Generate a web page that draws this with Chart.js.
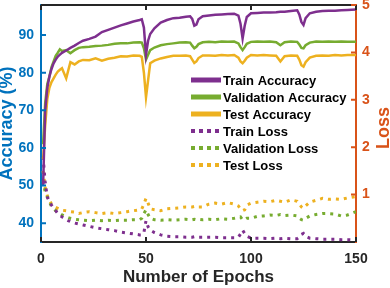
<!DOCTYPE html>
<html lang="en">
<head>
<meta charset="UTF-8" />
<title>Accuracy and loss</title>
<script src="https://cdn.jsdelivr.net/npm/chart.js"></script>
<style>
  body { margin: 0; background: #fff; }
  canvas { display: block; }
</style>
</head>
<body>
<canvas id="myChart" width="390" height="288"></canvas>
<script>
var epochs = [1,2,3,4,5,6,7,8,9,10, 12,14,16,18,20, 23,26,29,32,35,38,41,44,47,
  48,49,50,51,52, 54,57,60,63,66,69, 71,72,73,74,75, 77,80,83,86,89,92,
  94,95,96,97,98, 100,103,106,109,112, 114,116,119,122, 123,124,125,126,
  128,131,134,137,140,143,146,150];

var trainAcc = [50,70,76,79,81,82.5,83.5,84.3,84.8,85.3, 85.9,86.6,87.2,87.9,88.5,
  89.0,89.6,90.8,91.4,92.0,92.6,93.1,93.6,94.0, 94.2,92.0,84.8,88.5,90.3,
  91.8,93.3,94.0,94.5,94.6,94.9, 95.0,94.3,92.5,92.8,94.2, 95.0,95.2,95.4,95.5,95.6,95.7,
  95.2,93.0,89.1,92.5,94.8, 95.8,95.9,96.0,96.0,96.1, 96.2,96.2,96.4,96.6,
  95.5,93.5,92.7,94.5, 95.8,96.2,96.4,96.5,96.5,96.6,96.7,96.8];

var valAcc = [61,72,77,79,81.5,83,84.5,85.3,86.2,85.8, 86.0,85.2,86.0,86.6,86.8,
  86.9,87.1,87.2,87.4,87.7,87.8,87.8,88.0,88.1, 88.0,86.5,83.5,84.8,86.0,
  86.7,87.3,87.6,87.8,88.0,88.1, 88.0,87.2,86.5,86.9,87.6, 88.1,88.2,88.1,88.3,88.2,88.3,
  87.8,86.8,86.0,86.8,87.7, 88.2,88.3,88.2,88.3,88.1, 87.3,88.1,88.3,88.2,
  87.5,86.6,86.5,87.3, 88.0,88.3,88.2,88.3,88.2,88.3,88.2,88.2];

var testAcc = [57,66,73,76,77.5,78.5,79.5,80.3,80.8,81.2, 78.5,82.8,82.2,83.0,83.4,
  83.3,83.8,83.2,83.7,84.0,84.4,84.3,84.6,84.5, 84.2,80.0,73.5,78.0,82.5,
  83.2,83.8,84.2,84.5,84.5,84.6, 84.4,83.5,82.6,83.0,83.9, 84.6,84.6,84.5,84.7,84.6,84.7,
  84.0,83.0,82.5,83.2,84.0, 84.7,84.6,84.7,84.6,84.5, 83.0,84.4,84.6,84.5,
  83.5,82.0,81.6,82.8, 84.0,84.5,84.6,84.5,84.7,84.6,84.7,84.7];

var trainLoss = [1.8,1.25,0.95,0.85,0.78,0.72,0.66,0.6,0.56,0.53, 0.47,0.43,0.40,0.38,0.36,
  0.33,0.30,0.28,0.26,0.24,0.21,0.19,0.17,0.15, 0.15,0.2,0.45,0.32,0.25,
  0.2,0.15,0.12,0.11,0.11,0.1, 0.1,0.1,0.11,0.1,0.1, 0.1,0.1,0.1,0.09,0.09,0.09,
  0.1,0.17,0.25,0.18,0.12, 0.08,0.08,0.08,0.07,0.08, 0.07,0.08,0.07,0.07,
  0.1,0.16,0.18,0.12, 0.08,0.07,0.06,0.06,0.06,0.05,0.05,0.04];

var valLoss = [1.3,1.05,0.95,0.85,0.75,0.7,0.66,0.63,0.6,0.57, 0.53,0.5,0.48,0.47,0.46,
  0.45,0.46,0.45,0.46,0.45,0.46,0.46,0.47,0.47, 0.5,0.6,0.68,0.58,0.5,
  0.47,0.46,0.47,0.46,0.47,0.48, 0.47,0.47,0.48,0.47,0.48, 0.47,0.48,0.47,0.49,0.48,0.5,
  0.52,0.53,0.47,0.47,0.5, 0.5,0.54,0.55,0.57,0.56, 0.58,0.56,0.57,0.55,
  0.5,0.47,0.46,0.5, 0.55,0.58,0.6,0.6,0.59,0.55,0.57,0.64];

var testLoss = [1.5,1.15,0.98,0.88,0.8,0.76,0.73,0.71,0.69,0.67, 0.66,0.64,0.63,0.6,0.62,
  0.64,0.62,0.6,0.62,0.6,0.62,0.64,0.66,0.68, 0.7,0.8,0.92,0.82,0.7,
  0.68,0.66,0.7,0.71,0.72,0.74, 0.74,0.74,0.75,0.73,0.74, 0.74,0.8,0.82,0.8,0.83,0.8,
  0.76,0.7,0.66,0.68,0.78, 0.82,0.84,0.86,0.85,0.88, 0.86,0.84,0.89,0.86,
  0.8,0.74,0.71,0.76, 0.84,0.88,0.92,0.9,0.91,0.9,0.93,0.96];

var labels = ["Train Accuracy", "Validation Accuracy", "Test Accuracy",
  "Train Loss", "Validation Loss", "Test Loss"];
var epochTicks = [0, 50, 100, 150];
var accTicks = [40, 50, 60, 70, 80, 90];
var lossTicks = [1, 2, 3, 4, 5];

var roxo = "#7E2F8E";
var verde = "#77AC30";
var amarelo = "#EDB120";
var azul = "#0072BD";
var laranja = "#D95319";
var fonte = "'Liberation Sans', Arial, sans-serif";

function pontos(vals) {
  return epochs.map(function (e, i) { return { x: e, y: vals[i] }; });
}

function serie(nome, vals, cor, eixo, pontilhado) {
  return {
    label: nome,
    data: pontos(vals),
    borderColor: cor,
    backgroundColor: cor,
    borderWidth: pontilhado ? 3 : 2.5,
    borderDash: pontilhado ? [3, 5] : [],
    pointRadius: 0,
    tension: 0,
    yAxisID: eixo,
  };
}

// ticks pointing into the plot, plus the top frame line
var ticksInternos = {
  id: "ticksInternos",
  afterDraw: function (chart) {
    var ctx = chart.ctx;
    var a = chart.chartArea;
    var s = chart.scales;
    ctx.save();
    ctx.lineWidth = 2;
    ctx.strokeStyle = "#262626";
    ctx.beginPath();
    ctx.moveTo(a.left, a.top);
    ctx.lineTo(a.right, a.top);
    epochTicks.forEach(function (v) {
      var px = s.x.getPixelForValue(v);
      ctx.moveTo(px, a.bottom);
      ctx.lineTo(px, a.bottom - 5);
      ctx.moveTo(px, a.top);
      ctx.lineTo(px, a.top + 5);
    });
    ctx.stroke();
    ctx.strokeStyle = azul;
    ctx.beginPath();
    accTicks.forEach(function (v) {
      var py = s.y.getPixelForValue(v);
      ctx.moveTo(a.left, py);
      ctx.lineTo(a.left + 5, py);
    });
    ctx.stroke();
    ctx.strokeStyle = laranja;
    ctx.beginPath();
    lossTicks.forEach(function (v) {
      var py = s.y2.getPixelForValue(v);
      ctx.moveTo(a.right, py);
      ctx.lineTo(a.right - 5, py);
    });
    ctx.stroke();

    // right axis title, reading bottom to top
    ctx.fillStyle = laranja;
    ctx.font = "bold 18px " + fonte;
    ctx.textAlign = "center";
    ctx.textBaseline = "middle";
    ctx.translate(384, 128);
    ctx.rotate(-Math.PI / 2);
    ctx.fillText("Loss", 0, 0);
    ctx.restore();
  },
};

// legend inside the plot
var legenda = {
  id: "legenda",
  afterDraw: function (chart) {
    var ctx = chart.ctx;
    ctx.save();
    ctx.font = "bold 13px " + fonte;
    ctx.textBaseline = "middle";
    ctx.textAlign = "left";
    chart.data.datasets.forEach(function (ds, i) {
      var y = 80 + i * 17;
      ctx.strokeStyle = ds.borderColor;
      if (ds.borderDash.length) {
        ctx.lineWidth = 4;
        ctx.setLineDash([4, 4]);
      } else {
        ctx.lineWidth = 5;
        ctx.setLineDash([]);
      }
      ctx.beginPath();
      ctx.moveTo(191, y);
      ctx.lineTo(221, y);
      ctx.stroke();
      ctx.fillStyle = "#000";
      ctx.fillText(ds.label, 223, y + 1);
    });
    ctx.restore();
  },
};

Chart.defaults.font.family = fonte;

new Chart(document.getElementById("myChart"), {
  type: "line",
  data: {
    datasets: [
      serie(labels[0], trainAcc, roxo, "y", false),
      serie(labels[1], valAcc, verde, "y", false),
      serie(labels[2], testAcc, amarelo, "y", false),
      serie(labels[3], trainLoss, roxo, "y2", true),
      serie(labels[4], valLoss, verde, "y2", true),
      serie(labels[5], testLoss, amarelo, "y2", true),
    ],
  },
  options: {
    responsive: false,
    animation: false,
    devicePixelRatio: 1,
    layout: { padding: { top: 5, left: 0, right: 0, bottom: 0 } },
    plugins: { legend: { display: false }, tooltip: { enabled: false } },
    scales: {
      x: {
        type: "linear",
        min: 0,
        max: 150,
        afterBuildTicks: function (s) { s.ticks = epochTicks.map(function (v) { return { value: v }; }); },
        afterFit: function (s) { s.height = 46; s.paddingLeft = 0; s.paddingRight = 0; },
        grid: { display: false, drawTicks: false },
        border: { color: "#262626", width: 2 },
        ticks: { color: "#262626", font: { size: 14, weight: "bold" }, padding: 9, maxRotation: 0 },
        title: {
          display: true,
          text: "Number of Epochs",
          color: "#262626",
          font: { size: 17, weight: "bold" },
          padding: 0,
        },
      },
      y: {
        position: "left",
        min: 35,
        max: 98,
        afterBuildTicks: function (s) { s.ticks = accTicks.map(function (v) { return { value: v }; }); },
        afterFit: function (s) { s.width = 41; s.paddingTop = 0; s.paddingBottom = 0; },
        grid: { display: false, drawTicks: false },
        border: { color: azul, width: 2 },
        ticks: { color: azul, font: { size: 14, weight: "bold" }, padding: 7 },
        title: {
          display: true,
          text: "Accuracy (%)",
          color: azul,
          font: { size: 18, weight: "bold", lineHeight: 0.8 },
          padding: 0,
        },
      },
      y2: {
        position: "right",
        min: 0,
        max: 5,
        afterBuildTicks: function (s) { s.ticks = lossTicks.map(function (v) { return { value: v }; }); },
        afterFit: function (s) { s.width = 34; s.paddingTop = 0; s.paddingBottom = 0; },
        grid: { display: false, drawTicks: false },
        border: { color: laranja, width: 2 },
        ticks: { color: laranja, font: { size: 14, weight: "bold" }, padding: 6 },
      },
    },
  },
  plugins: [ticksInternos, legenda],
});
</script>
</body>
</html>
